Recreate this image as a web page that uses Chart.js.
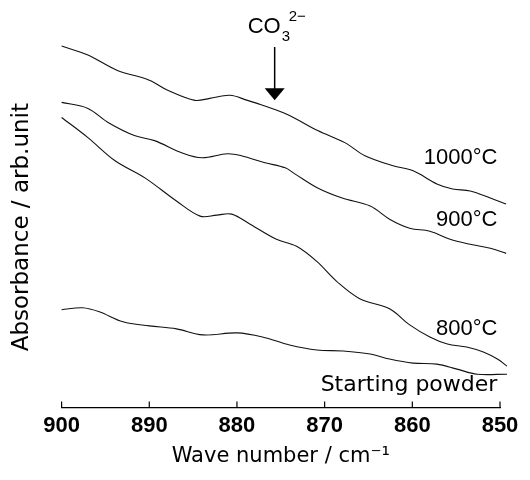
<!DOCTYPE html>
<html>
<head>
<meta charset="utf-8">
<script src="https://cdn.jsdelivr.net/npm/chart.js@4"></script>
<style>
  html, body { margin: 0; padding: 0; background: #fff; }
  #wrap { width: 530px; height: 480px; }
</style>
</head>
<body>
<div id="wrap"><canvas id="chart"></canvas></div>
<script>
// IR spectra, wave number (cm-1) vs absorbance (arb. unit, curves offset)
const wn1000 = [900, 897.0, 893.7, 890.0, 887.9, 884.8, 883.1, 880.8, 878.8, 877.7, 876.0, 874.0, 870.8, 867.7, 865.4, 862.2, 859.9, 857.2, 855.4, 853.4, 851.1, 849.3];
const abs1000 = [359, 350, 335, 325, 315, 305, 307, 310, 305, 302, 297, 290, 275, 263, 250, 240, 235, 222, 217, 215, 208, 202];

const wn900 = [900, 897.0, 894.7, 891.7, 889.4, 886.3, 884.0, 881.1, 879.5, 876.8, 874.5, 873.4, 870.8, 868.0, 864.8, 862.6, 860.3, 858.0, 855.7, 853.4, 851.1, 849.3];
const abs900 = [303, 297, 283, 270, 265, 253, 248, 252, 250, 243, 238, 232, 218, 208, 200, 187, 178, 175, 167, 162, 158, 153];

const wn800 = [900, 897.0, 893.9, 890.5, 886.9, 884.2, 882.3, 880.6, 878.5, 875.5, 873.2, 870.9, 868.6, 866.0, 862.6, 860.3, 858.0, 856.0, 853.8, 851.9, 850.3, 849.2];
const abs800 = [288, 268, 245, 228, 205, 190, 191, 192, 182, 167, 160, 145, 125, 108, 98, 82, 70, 63, 60, 55, 48, 41];

const wnStart = [900, 897.6, 895.7, 893.0, 890.0, 886.9, 883.9, 880.0, 877.1, 874.0, 870.9, 867.9, 864.8, 862.6, 859.9, 857.2, 854.9, 852.6, 849.2];
const absStart = [97, 99, 95, 85, 81, 78, 72, 74, 70, 62, 57, 56, 53, 48, 44, 43, 38, 33, 33];

const xTicks = [900, 890, 880, 870, 860, 850];
const curveLabels = ['1000°C', '900°C', '800°C', 'Starting powder'];
const bandPosition = 875.7; // CO3 2- band

const toPoints = (xs, ys) => xs.map((x, i) => ({ x: x, y: ys[i] }));

const series = [
  toPoints(wn1000, abs1000),
  toPoints(wn900, abs900),
  toPoints(wn800, abs800),
  toPoints(wnStart, absStart)
];

// where the curve names sit (data coords, right aligned, baseline)
const labelAnchors = [
  { x: 850.3, y: 242, font: '22px "Liberation Sans"' },
  { x: 850.3, y: 180, font: '22px "Liberation Sans"' },
  { x: 850.3, y: 72, font: '22px "Liberation Sans"' },
  { x: 850.3, y: 16, font: '22px "DejaVu Sans"' }
];

const decorations = {
  id: 'decorations',
  afterDatasetsDraw(chart) {
    const { ctx, scales: { x, y }, chartArea } = chart;
    ctx.save();
    ctx.strokeStyle = '#000';
    ctx.fillStyle = '#000';

    // inward tick marks
    ctx.lineWidth = 1.2;
    xTicks.forEach(v => {
      const px = x.getPixelForValue(v);
      ctx.beginPath();
      ctx.moveTo(px, chartArea.bottom);
      ctx.lineTo(px, chartArea.bottom - 6);
      ctx.stroke();
    });

    // curve names
    ctx.textAlign = 'right';
    ctx.textBaseline = 'alphabetic';
    curveLabels.forEach((t, i) => {
      const a = labelAnchors[i];
      ctx.font = a.font;
      ctx.fillText(t, x.getPixelForValue(a.x), y.getPixelForValue(a.y));
    });

    // CO3 2- marker
    const ax = x.getPixelForValue(bandPosition);
    const tipY = y.getPixelForValue(305);
    const topY = y.getPixelForValue(358);
    ctx.lineWidth = 1.5;
    ctx.beginPath();
    ctx.moveTo(ax, topY);
    ctx.lineTo(ax, tipY - 10);
    ctx.stroke();
    ctx.beginPath();
    ctx.moveTo(ax - 10, tipY - 12);
    ctx.lineTo(ax + 10, tipY - 12);
    ctx.lineTo(ax, tipY);
    ctx.closePath();
    ctx.fill();

    ctx.textAlign = 'left';
    ctx.font = '22px "Liberation Sans"';
    const cx = ax - 27;
    const base = topY - 14;
    ctx.fillText('CO', cx, base);
    const w = ctx.measureText('CO').width;
    ctx.font = '15px "Liberation Sans"';
    ctx.fillText('3', cx + w + 1, base + 8);
    ctx.fillText('2−', cx + w + 8, base - 12);
    ctx.restore();
  }
};

const lineStyle = {
  borderColor: '#111',
  borderWidth: 1.1,
  pointRadius: 0,
  tension: 0.35,
  fill: false,
  clip: false
};

new Chart(document.getElementById('chart'), {
  type: 'line',
  data: {
    datasets: series.map((pts, i) => Object.assign({ label: curveLabels[i], data: pts }, lineStyle))
  },
  options: {
    responsive: true,
    maintainAspectRatio: false,
    animation: false,
    layout: { padding: { top: 47, right: 30, bottom: 0, left: 0 } },
    plugins: { legend: { display: false }, tooltip: { enabled: false } },
    scales: {
      x: {
        type: 'linear',
        reverse: true,
        min: 850,
        max: 900,
        afterBuildTicks: s => { s.ticks = xTicks.map(v => ({ value: v })); },
        ticks: {
          padding: 5,
          color: '#000',
          maxRotation: 0,
          autoSkip: false,
          font: { family: 'Liberation Sans', size: 22, weight: 'bold' }
        },
        grid: { display: false, drawTicks: false },
        border: { display: true, color: '#000', width: 1.2 },
        title: {
          display: true,
          text: 'Wave number / cm⁻¹',
          color: '#000',
          font: { family: 'DejaVu Sans', size: 21 },
          padding: { top: 0, bottom: 11 }
        }
      },
      y: {
        min: 0,
        max: 358,
        ticks: { display: false },
        grid: { display: false, drawTicks: false },
        border: { display: false },
        title: {
          display: true,
          text: 'Absorbance / arb.unit',
          color: '#000',
          font: { family: 'DejaVu Sans', size: 23 },
          padding: { top: 8, bottom: 26 }
        }
      }
    }
  },
  plugins: [decorations]
});
</script>
</body>
</html>
